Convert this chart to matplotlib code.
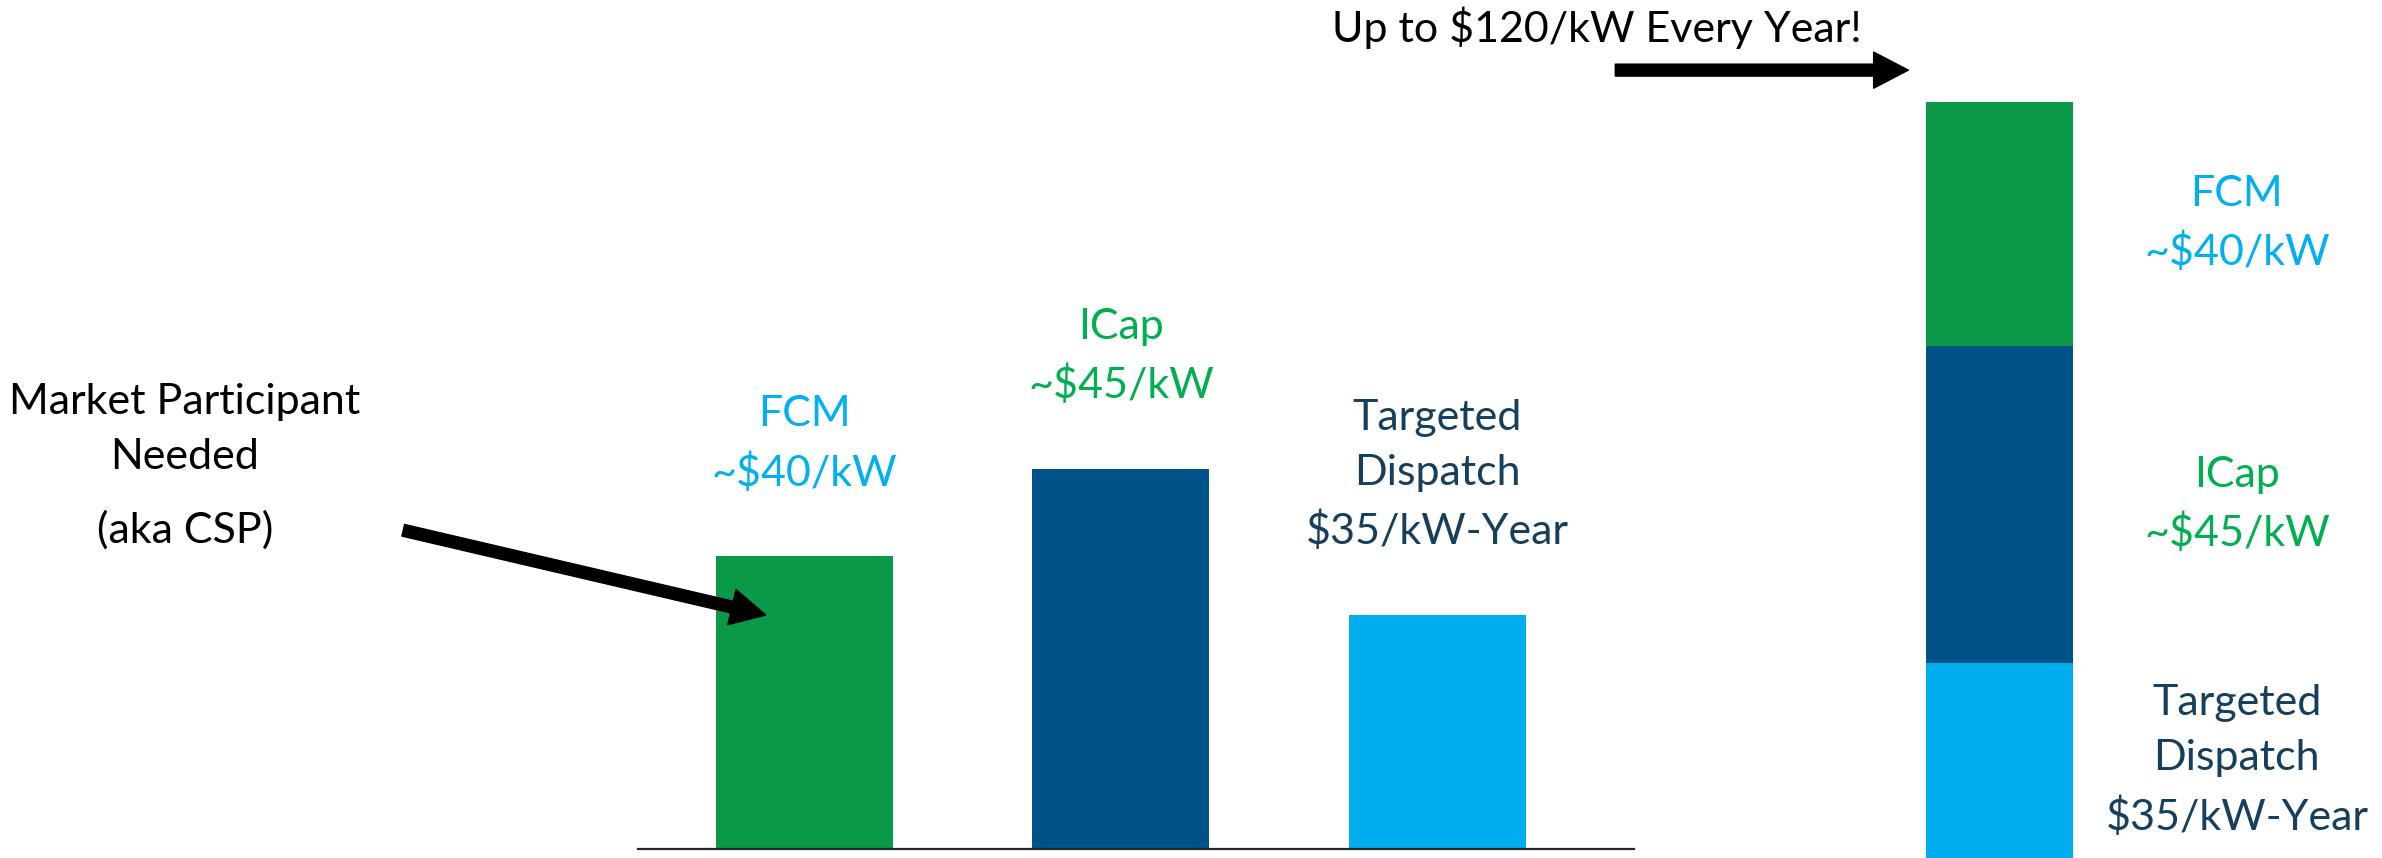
## imports
import numpy as np
import matplotlib.pyplot as plt

plt.rcParams['font.family'] = ['Lato', 'DejaVu Sans']

## data
categories = ['FCM', 'ICap', 'Targeted Dispatch']
values = [40, 52, 32]          # relative bar heights
labels = ['FCM\n~$40/kW', 'ICap\n~$45/kW', 'Targeted\nDispatch\n$35/kW-Year']
bar_colors = ['#0A9849', '#005289', '#00AEEF']
label_colors = ['#00B0F0', '#00B050', '#163F5E']

# stacked bar, bottom to top
stack_order = [2, 1, 0]

## figure
W, H = 2382, 858
fig = plt.figure(figsize=(W / 100, H / 100), dpi=100)
fs = 31
lsp = 1.56

# left chart: three separate bars
ax = fig.add_axes([638 / W, 9 / H, (1634 - 638) / W, 849 / H])
x = np.arange(len(categories))
bw = 0.559
ax.bar(x, values, width=bw, color=bar_colors)
ax.set_xlim(-0.525, 2.621)
ax.set_ylim(0, 116.1)
for s in ['top', 'right', 'left']:
    ax.spines[s].set_visible(False)
ax.spines['bottom'].set_color('#262626')
ax.spines['bottom'].set_linewidth(1.6)
ax.set_xticks([])
ax.set_yticks([])
ax.patch.set_alpha(0)

for xi, v, lab, c in zip(x, values, labels, label_colors):
    ax.annotate(lab, xy=(xi, v), xytext=(0, 51), textcoords='offset points',
                ha='center', va='baseline', multialignment='center',
                color=c, fontsize=fs, linespacing=lsp, annotation_clip=False)

# arrow pointing into the FCM bar
ax.annotate('', xy=(x[0] - bw / 2 + 0.158, values[0] * 0.8),
            xytext=(-261, 61), textcoords='offset points',
            arrowprops=dict(arrowstyle='simple,head_length=25,head_width=26,tail_width=8.6',
                            mutation_scale=1, color='black', shrinkA=0, shrinkB=0),
            annotation_clip=False)

# right chart: stacked bar
ax2 = fig.add_axes([1926 / W, 0, 147 / W, 1])
bottom = 0
for i in stack_order:
    ax2.bar(0, values[i], bottom=bottom, width=1, color=bar_colors[i])
    ax2.annotate(labels[i], xy=(0.5, bottom + values[i] / 2), xytext=(118, 0),
                 textcoords='offset points', ha='center', va='center',
                 multialignment='center', color=label_colors[i], fontsize=fs,
                 linespacing=lsp, annotation_clip=False)
    bottom += values[i]
ax2.set_xlim(-0.5, 0.5)
ax2.set_ylim(0, 140.7)
ax2.axis('off')

ax2.annotate('', xy=(-0.62, bottom + 5.2), xytext=(-211, 0), textcoords='offset points',
             arrowprops=dict(arrowstyle='simple,head_length=25,head_width=26,tail_width=8.6',
                             mutation_scale=1, color='black', shrinkA=0, shrinkB=0),
             annotation_clip=False)

# free text
fig.text(1332 / W, 1 - 42 / H, 'Up to $120/kW Every Year!', fontsize=fs,
         ha='left', va='baseline', color='black')
fig.text(185 / W, 1 - 469 / H, 'Market Participant\nNeeded', fontsize=fs,
         ha='center', va='baseline', multialignment='center', linespacing=lsp, color='black')
fig.text(185 / W, 1 - 543 / H, '(aka CSP)', fontsize=fs,
         ha='center', va='baseline', color='black')

fig.savefig('out.png', dpi=100, facecolor='white')
